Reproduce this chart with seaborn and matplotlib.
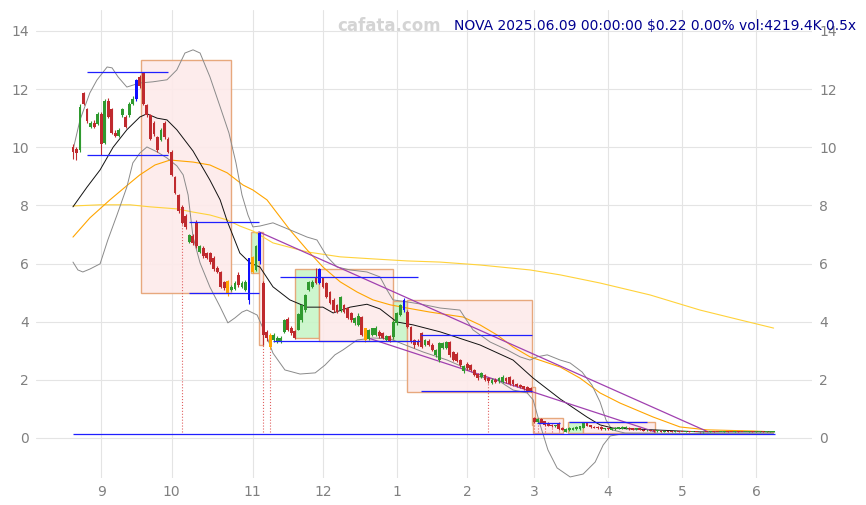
import numpy as np
import pandas as pd
import matplotlib
matplotlib.use("Agg")
import matplotlib.pyplot as plt
from matplotlib.patches import Rectangle
import seaborn as sns

# -- trading days, NOVA daily candles --
holidays = ["2024-09-02", "2024-11-28", "2024-12-25", "2025-01-01", "2025-01-09",
            "2025-01-20", "2025-02-17", "2025-04-18", "2025-05-26"]
dates = pd.bdate_range("2024-08-21", "2025-06-09", freq="C", holidays=holidays)

opens = [10.0, 9.95, 9.9, 11.85, 11.3, 10.7, 10.85, 10.8, 11.15, 10.15,
         11.6, 11.3, 10.5, 10.4, 11.1, 11.05, 11.1, 11.5, 11.65, 12.4,
         12.55, 11.45, 11.1, 10.85, 10.35, 10.25, 10.85, 10.3, 9.85, 8.98,
         8.36, 7.95, 7.65, 6.75, 6.95, 7.4, 6.4, 6.55, 6.36, 6.35,
         6.2, 5.85, 5.71, 5.37, 5.4, 5.1, 5.13, 5.6, 5.19, 5.09,
         4.75, 5.71, 5.78, 6.1, 5.33, 3.65, 3.54, 3.37, 3.3, 3.3,
         3.65, 4.1, 3.78, 3.68, 3.72, 4.06, 4.4, 5.09, 5.19, 5.5,
         5.33, 5.5, 5.33, 5.02, 4.75, 4.58, 4.4, 4.58, 4.47, 4.3,
         3.96, 3.9, 4.16, 3.78, 3.41, 3.55, 3.55, 3.65, 3.62, 3.38,
         3.5, 3.47, 3.96, 4.23, 4.4, 4.33, 3.82, 3.37, 3.35, 3.61,
         3.2, 3.35, 3.2, 2.86, 2.68, 3.1, 3.1, 3.3, 2.96, 2.9,
         2.68, 2.3, 2.55, 2.5, 2.34, 2.2, 2.1, 2.17, 2.05, 1.9,
         2.0, 1.95, 1.93, 2.08, 2.1, 2.0, 1.85, 1.82, 1.78, 1.75,
         1.72, 0.69, 0.55, 0.66, 0.58, 0.52, 0.45, 0.4, 0.52, 0.36,
         0.22, 0.26, 0.28, 0.3, 0.3, 0.35, 0.5, 0.44, 0.38, 0.38,
         0.38, 0.3, 0.34, 0.28, 0.3, 0.32, 0.32, 0.33, 0.36, 0.33,
         0.3, 0.33, 0.28, 0.26, 0.28, 0.25, 0.23, 0.25, 0.22, 0.24,
         0.22, 0.21, 0.23, 0.21, 0.2, 0.22, 0.2, 0.21, 0.2, 0.19,
         0.21, 0.2, 0.22, 0.21, 0.2, 0.21, 0.23, 0.21, 0.2, 0.22,
         0.21, 0.2, 0.21, 0.22, 0.2, 0.22, 0.23, 0.21, 0.22, 0.22]
closes = [9.85, 9.8, 11.4, 11.5, 10.9, 10.85, 10.7, 11.15, 10.1, 11.6,
          11.05, 10.5, 10.4, 10.6, 11.3, 10.7, 11.5, 11.65, 12.3, 12.1,
          11.5, 11.1, 10.3, 10.45, 9.9, 10.6, 10.35, 9.85, 9.05, 8.43,
          7.8, 7.4, 7.26, 6.98, 6.7, 6.6, 6.6, 6.26, 6.19, 6.05,
          5.8, 5.71, 5.19, 5.16, 4.95, 5.19, 5.33, 5.26, 5.33, 5.37,
          6.19, 6.22, 6.6, 7.05, 3.54, 3.44, 3.13, 3.54, 3.44, 3.44,
          4.06, 3.72, 3.61, 3.44, 4.27, 4.58, 4.92, 5.37, 5.37, 5.33,
          5.81, 5.19, 4.85, 4.64, 4.4, 4.33, 4.85, 4.33, 4.13, 4.06,
          4.13, 4.2, 3.54, 3.37, 3.72, 3.78, 3.78, 3.5, 3.45, 3.5,
          3.35, 3.99, 4.3, 4.58, 4.75, 3.82, 3.3, 3.2, 3.2, 3.13,
          3.37, 3.2, 3.03, 3.03, 3.27, 3.27, 3.3, 2.86, 2.68, 2.65,
          2.5, 2.48, 2.4, 2.35, 2.17, 2.05, 2.25, 2.0, 1.95, 2.0,
          1.92, 2.05, 2.1, 1.95, 1.86, 1.85, 1.78, 1.75, 1.7, 1.62,
          1.62, 0.55, 0.65, 0.52, 0.45, 0.42, 0.4, 0.44, 0.3, 0.28,
          0.32, 0.35, 0.36, 0.38, 0.4, 0.5, 0.42, 0.38, 0.36, 0.34,
          0.3, 0.33, 0.3, 0.34, 0.36, 0.37, 0.38, 0.38, 0.3, 0.28,
          0.33, 0.28, 0.25, 0.28, 0.24, 0.23, 0.25, 0.22, 0.24, 0.22,
          0.21, 0.23, 0.21, 0.2, 0.22, 0.2, 0.21, 0.2, 0.19, 0.21,
          0.2, 0.22, 0.21, 0.2, 0.21, 0.23, 0.21, 0.2, 0.22, 0.21,
          0.2, 0.21, 0.22, 0.2, 0.22, 0.23, 0.21, 0.22, 0.22, 0.22]
highs = [10.1, 10.0, 11.5, 11.9, 11.35, 10.9, 10.95, 11.2, 11.2, 11.65,
         11.7, 11.35, 10.6, 10.65, 11.35, 11.1, 11.55, 11.75, 12.35, 12.5,
         12.6, 11.5, 11.15, 10.9, 10.4, 10.65, 10.9, 10.35, 9.9, 9.0,
         8.4, 8.0, 7.7, 7.0, 7.0, 7.5, 6.65, 6.6, 6.4, 6.4,
         6.25, 5.9, 5.75, 5.4, 5.45, 5.25, 5.4, 5.7, 5.4, 5.45,
         6.2, 6.25, 6.65, 7.1, 5.4, 3.7, 3.6, 3.6, 3.5, 3.5,
         4.1, 4.15, 3.85, 3.72, 4.3, 4.6, 4.95, 5.4, 5.45, 5.85,
         5.85, 5.55, 5.35, 5.05, 4.8, 4.6, 4.9, 4.6, 4.5, 4.35,
         4.15, 4.3, 4.2, 3.8, 3.75, 3.8, 3.85, 3.7, 3.65, 3.55,
         3.55, 4.05, 4.35, 4.62, 4.8, 4.4, 3.85, 3.4, 3.4, 3.65,
         3.4, 3.4, 3.25, 3.05, 3.3, 3.3, 3.35, 3.35, 3.0, 2.95,
         2.7, 2.5, 2.6, 2.55, 2.38, 2.25, 2.28, 2.2, 2.1, 2.05,
         2.05, 2.1, 2.15, 2.1, 2.12, 2.02, 1.88, 1.85, 1.8, 1.78,
         1.75, 0.72, 0.68, 0.7, 0.6, 0.55, 0.48, 0.46, 0.54, 0.38,
         0.34, 0.37, 0.38, 0.4, 0.42, 0.52, 0.52, 0.46, 0.4, 0.4,
         0.4, 0.35, 0.36, 0.36, 0.38, 0.39, 0.4, 0.4, 0.38, 0.35,
         0.35, 0.34, 0.3, 0.3, 0.29, 0.27, 0.26, 0.26, 0.25, 0.25,
         0.23, 0.24, 0.24, 0.22, 0.23, 0.23, 0.22, 0.22, 0.21, 0.22,
         0.22, 0.23, 0.23, 0.22, 0.22, 0.24, 0.24, 0.22, 0.23, 0.23,
         0.22, 0.22, 0.23, 0.23, 0.23, 0.24, 0.24, 0.23, 0.23, 0.23]
lows = [9.6, 9.55, 9.85, 11.45, 10.85, 10.65, 10.65, 10.75, 9.75, 10.1,
        11.0, 10.45, 10.35, 10.35, 11.05, 10.65, 11.05, 11.45, 11.6, 12.05,
        11.45, 11.05, 10.25, 10.4, 9.85, 10.2, 10.3, 9.8, 9.0, 8.4,
        7.75, 7.35, 7.2, 6.7, 6.65, 6.55, 6.35, 6.2, 6.15, 6.0,
        5.75, 5.68, 5.15, 5.1, 4.9, 5.05, 5.1, 5.2, 5.15, 5.05,
        4.6, 5.68, 5.75, 6.0, 3.2, 3.35, 3.05, 3.3, 3.25, 3.28,
        3.6, 3.68, 3.55, 3.4, 3.7, 4.0, 4.35, 5.05, 5.15, 5.3,
        5.3, 5.15, 4.8, 4.6, 4.35, 4.3, 4.35, 4.3, 4.1, 4.0,
        3.9, 3.85, 3.5, 3.3, 3.38, 3.5, 3.5, 3.45, 3.4, 3.35,
        3.3, 3.42, 3.9, 4.2, 4.35, 3.78, 3.25, 3.1, 3.15, 3.1,
        3.15, 3.15, 3.0, 2.8, 2.6, 3.05, 3.05, 2.8, 2.65, 2.6,
        2.45, 2.25, 2.35, 2.3, 2.12, 2.0, 2.05, 1.95, 1.9, 1.85,
        1.88, 1.9, 1.9, 1.9, 1.82, 1.8, 1.75, 1.72, 1.65, 1.58,
        1.58, 0.5, 0.52, 0.5, 0.42, 0.4, 0.38, 0.38, 0.28, 0.26,
        0.2, 0.24, 0.26, 0.28, 0.28, 0.33, 0.4, 0.36, 0.34, 0.32,
        0.28, 0.28, 0.28, 0.26, 0.28, 0.3, 0.3, 0.31, 0.28, 0.26,
        0.28, 0.26, 0.24, 0.25, 0.23, 0.22, 0.22, 0.21, 0.21, 0.21,
        0.2, 0.2, 0.2, 0.19, 0.19, 0.19, 0.19, 0.19, 0.18, 0.18,
        0.19, 0.19, 0.2, 0.19, 0.19, 0.2, 0.2, 0.19, 0.19, 0.2,
        0.19, 0.19, 0.2, 0.19, 0.19, 0.21, 0.2, 0.2, 0.21, 0.21]
blue_days = [18, 50, 53, 70, 94]
orange_days = [44, 51, 56, 83]

# -- indicator lines (bar index, price) --
mid_idx = [0, 4, 7.7, 11.4, 15.3, 19, 21, 23.9, 26.7, 29.5, 34.1, 38.9, 41.8, 43.8, 47.4,
           50.3, 53.1, 56.8, 61.6, 66.5, 71, 73.9, 78.7, 83.5, 87.2, 92, 96.6, 104.3,
           115.6, 125, 130.7, 138.4, 146, 149.7, 153.4, 164.8, 178.1, 199]
mid_val = [7.95, 8.63, 9.22, 10.0, 10.6, 11.04, 11.15, 11.0, 10.94, 10.6, 9.87, 8.87, 8.19,
           7.46, 6.36, 6.02, 5.88, 5.2, 4.75, 4.5, 4.5, 4.3, 4.5, 4.6, 4.44, 3.99, 3.89, 3.65,
           3.2, 2.68, 2.06, 1.34, 0.72, 0.45, 0.34, 0.28, 0.21, 0.21]
up_idx = [0, 2, 4.8, 6.8, 9.7, 11.1, 12.8, 15.3, 19, 22.7, 26.7, 29.5, 31.8, 34.1, 36.1,
          38.9, 41.8, 44.3, 46.3, 48, 49.7, 51.1, 53.1, 56.8, 61.6, 66.5, 69.3, 72.2, 75,
          78.7, 83.5, 87.2, 89.2, 90.9, 94.9, 98.6, 104.3, 109.9, 113.6, 118.5, 123.3, 127,
          129.8, 131.8, 134.7, 138.4, 141.2, 144.6, 147.4, 149.7, 151.4, 153.1, 156.8, 199]
up_val = [9.9, 10.94, 11.87, 12.31, 12.76, 12.73, 12.42, 12.07, 12.21, 12.25, 12.32, 12.66,
          13.24, 13.35, 13.24, 12.42, 11.39, 10.49, 9.46, 8.36, 7.67, 7.26, 7.29, 7.4, 7.16,
          6.91, 6.81, 6.23, 5.88, 5.78, 5.71, 5.54, 5.09, 4.75, 4.68, 4.61, 4.47, 4.4, 3.72,
          3.3, 3.03, 2.79, 2.68, 2.79, 2.86, 2.68, 2.58, 2.27, 1.82, 1.24, 0.62, 0.28, 0.17, 0.14]
lo_idx = [0, 1.4, 2.8, 4.8, 7.7, 9.9, 12.5, 15.3, 17, 19, 21, 23.9, 26.7, 29.5, 31.3, 32.7,
          34.1, 36.1, 38.9, 41.8, 44, 46, 48, 49.4, 52.3, 55.1, 56.8, 60.2, 64.5, 68.8, 71.6,
          74.4, 76.7, 80.7, 85.2, 90.1, 92.9, 99.4, 106.3, 110.8, 115.6, 120.5, 125, 129,
          130.7, 132.7, 134.9, 137.5, 141.2, 144.9, 148.3, 150.6, 152.6, 156, 199]
lo_val = [6.05, 5.78, 5.71, 5.81, 5.99, 6.81, 7.67, 8.63, 9.46, 9.8, 10.01, 9.84, 9.63, 9.36,
          9.05, 8.36, 6.91, 6.02, 5.19, 4.51, 3.96, 4.13, 4.33, 4.4, 4.23, 3.47, 2.92, 2.34,
          2.2, 2.24, 2.51, 2.86, 3.03, 3.37, 3.44, 3.41, 3.27, 2.96, 2.68, 2.44, 2.1, 2.0, 1.65,
          1.55, 1.31, 0.45, -0.41, -1.03, -1.34, -1.24, -0.83, -0.24, 0.07, 0.14, 0.14]
ma60_idx = [0, 4.8, 10.5, 16.2, 19, 23.3, 27.6, 34.1, 38.9, 43.8, 48.3, 51.1, 55.1, 61.6,
            66.5, 71, 75.9, 80.7, 85.2, 90.1, 94.9, 101.4, 110.8, 115.6, 120.5, 125, 129.8,
            138.4, 144, 149.7, 155.4, 164.8, 172.4, 180.1, 193.2, 199]
ma60_val = [6.91, 7.57, 8.19, 8.77, 9.05, 9.39, 9.56, 9.49, 9.39, 9.12, 8.7, 8.53, 8.19, 7.16,
            6.47, 5.88, 5.37, 5.02, 4.75, 4.58, 4.47, 4.33, 4.16, 3.89, 3.54, 3.13, 2.79, 2.44,
            2.06, 1.55, 1.2, 0.72, 0.38, 0.28, 0.24, 0.21]
ma120_idx = [0, 7.7, 16.2, 21.9, 29.5, 34.1, 38.9, 43.8, 47.4, 51.1, 56.8, 66.5, 75.9, 85.2,
             94.9, 104.3, 115.6, 129.8, 138.4, 149.7, 163.9, 178.1, 189.5, 199]
ma120_val = [7.98, 8.02, 8.02, 7.95, 7.88, 7.77, 7.67, 7.5, 7.29, 7.12, 6.71, 6.4, 6.23, 6.16,
             6.09, 6.05, 5.95, 5.78, 5.61, 5.33, 4.92, 4.4, 4.06, 3.78]

# -- boxes, levels, trend lines --
box_x0 = [19.3, 50.7, 52.9, 63.1, 69.9, 90.9, 94.9, 130.4, 130.7, 140.6, 144.9]
box_x1 = [44.9, 52.9, 54.0, 69.9, 90.9, 94.9, 130.4, 131.3, 139.2, 144.9, 165.3]
box_lo = [4.98, 5.68, 3.2, 3.44, 3.34, 3.34, 1.58, 0.45, 0.17, 0.17, 0.17]
box_hi = [13.0, 7.09, 7.09, 5.81, 5.81, 4.71, 4.75, 1.75, 0.69, 0.55, 0.55]
box_up = [False, True, False, True, False, True, False, False, False, True, False]

lvl_x0 = [4.0, 4.0, 33.0, 33.0, 58.8, 56.8, 98.9, 98.9, 131.8, 141.0, 0]
lvl_x1 = [27.0, 27.0, 52.8, 52.8, 98.0, 98.6, 130.4, 130.4, 138.4, 163.0, 199.4]
lvl_val = [12.6, 9.73, 7.43, 4.99, 5.54, 3.34, 3.54, 1.62, 0.52, 0.55, 0.14]

trend_x = [(52.8, 180.4), (83.8, 165.3)]
trend_y = [(7.09, 0.21), (3.44, 0.21)]

drop_idx = [31, 54, 56, 118, 131, 132, 134, 136, 138]

sns.set_style("whitegrid", {"grid.color": "#e4e4e4", "axes.edgecolor": "white"})

fig = plt.figure(figsize=(8.66, 5.05), dpi=100)
ax = fig.add_axes([36 / 866, 27 / 505, 776 / 866, 468 / 505])

idx = np.arange(len(dates))
o = np.array(opens); c = np.array(closes); h = np.array(highs); l = np.array(lows)
cols = np.where(c >= o, "#2f9a2f", "#bf2a2e").astype(object)
cols[blue_days] = "#1010ff"
cols[orange_days] = "#ffa500"

# boxes
for x0, x1, y0, y1, up in zip(box_x0, box_x1, box_lo, box_hi, box_up):
    fc = "#c8f5c8" if up else "#fdeaea"
    ax.add_patch(Rectangle((x0, y0), x1 - x0, y1 - y0, facecolor=fc, edgecolor="#e5a070",
                           lw=1.0, alpha=0.9, zorder=1))

# drop markers
ax.vlines(drop_idx, 0.2, l[drop_idx], colors="#e06060", linestyles=":", lw=0.8, zorder=2)

# indicators
sns.lineplot(x=ma120_idx, y=ma120_val, ax=ax, color="#ffd23a", lw=0.8, zorder=2)
sns.lineplot(x=ma60_idx, y=ma60_val, ax=ax, color="#ffa500", lw=0.8, zorder=2)
sns.lineplot(x=up_idx, y=up_val, ax=ax, color="#8a8a8a", lw=0.7, zorder=2)
sns.lineplot(x=lo_idx, y=lo_val, ax=ax, color="#8a8a8a", lw=0.7, zorder=2)
sns.lineplot(x=mid_idx, y=mid_val, ax=ax, color="#111111", lw=0.7, zorder=2)

for tx, ty in zip(trend_x, trend_y):
    ax.plot(tx, ty, color="#a040b0", lw=0.9, zorder=2)
ax.hlines(lvl_val, lvl_x0, lvl_x1, colors="#1f1fff", lw=0.9, zorder=5)

# candles
ax.vlines(idx, l, h, colors=list(cols), lw=0.8, zorder=3)
body = np.maximum(np.abs(c - o), 0.03)
ax.bar(idx, body, bottom=np.minimum(o, c), width=0.8, color=list(cols), lw=0, zorder=4)

# axes
month_starts = [i for i in range(1, len(dates)) if dates[i].month != dates[i - 1].month]
ax.set_xticks(month_starts)
ax.set_xticklabels([str(dates[i].month) for i in month_starts])
ax.set_xlim(-10.5, 209.9)
ax.set_ylim(-1.376, 14.72)
ax.set_yticks([0, 2, 4, 6, 8, 10, 12, 14])
ax.tick_params(axis="both", colors="#808080", labelsize=10, length=0, pad=5)
ax.tick_params(axis="y", labelright=True)
for s in ax.spines.values():
    s.set_visible(False)
ax.set_xlabel("")
ax.set_ylabel("")

fig.text(389 / 866, 1 - 26 / 505, "cafata.com", color="#d4d4d4", fontsize=12,
         fontweight="bold", ha="center", va="center")
fig.text(856 / 866, 1 - 26 / 505, "NOVA 2025.06.09 00:00:00 $0.22 0.00% vol:4219.4K 0.5x",
         color="#000090", fontsize=10, ha="right", va="center")

fig.savefig("out.png", dpi=100)
